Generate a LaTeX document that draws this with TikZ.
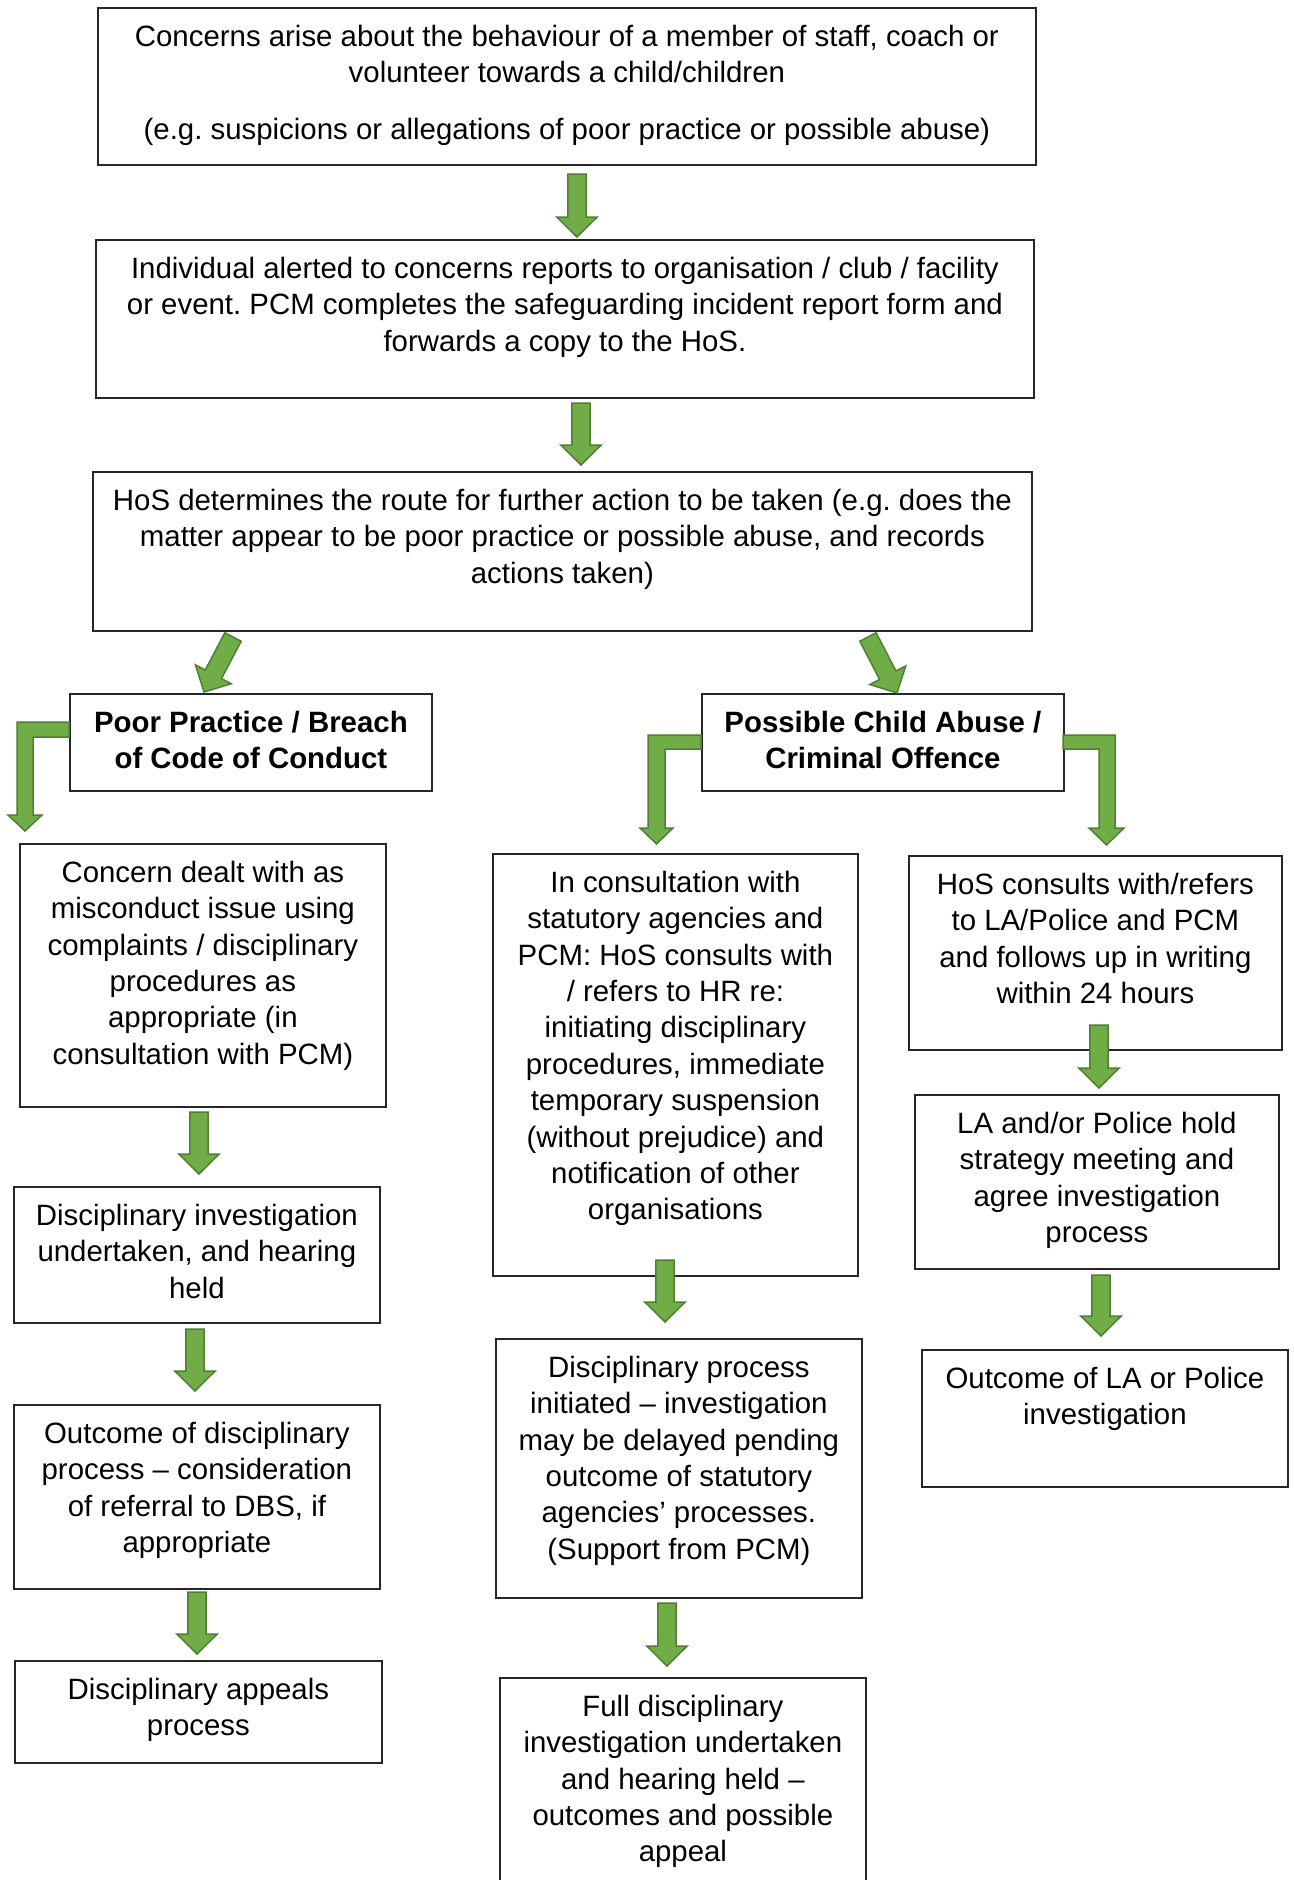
\documentclass[tikz,border=0pt]{standalone}
\usepackage{fontspec}
\setmainfont{Liberation Sans}
\usetikzlibrary{calc}
\frenchspacing
\definecolor{agreen}{HTML}{70AD47}
\definecolor{agreendark}{HTML}{507E32}
\tikzset{
  boxstyle/.style={draw=black!85, line width=0.9pt, fill=white, inner sep=0pt, anchor=north west},
  txt/.style={align=center, inner sep=0pt, anchor=north, font=\fontsize{14.7pt}{18.2pt}\selectfont},
  blk/.style={fill=agreen, draw=agreendark, line width=0.75pt, line join=miter},
}
% name, x1, y1, x2, y2, text
\newcommand\flowbox[6]{%
  \node[boxstyle, minimum width={(#4-#2)*0.5pt}, minimum height={(#5-#3)*0.5pt}] (#1) at (#2,#3) {};
  \node[txt] (#1-t) at ($(#1.north)+(0,17.5)$) {#6};
}
% straight block arrow from tail (#1) to tip (#2)
\newcommand\blockarrow[2]{%
  \coordinate (ba-h) at ($(#2)!10pt!(#1)$);
  \draw[blk] ($(#1)!4.6pt!90:(#2)$) -- ($(ba-h)!4.6pt!90:(#2)$) -- ($(ba-h)!10.1pt!90:(#2)$)
    -- (#2) -- ($(ba-h)!10.1pt!-90:(#2)$) -- ($(ba-h)!4.6pt!-90:(#2)$) -- ($(#1)!4.6pt!-90:(#2)$) -- cycle;
}
\begin{document}
\begin{tikzpicture}[x=0.5pt, y=-0.5pt]
\useasboundingbox (0,0) rectangle (1294,1880);

\flowbox{q1}{97}{7}{1035}{164}{Concerns arise about the behaviour of a member of staff, coach or\\volunteer towards a child/children\\[10pt](e.g. suspicions or allegations of poor practice or possible abuse)}
\flowbox{q2}{95}{239}{1033}{397}{Individual alerted to concerns reports to organisation / club / facility\\or event. PCM completes the safeguarding incident report form and\\forwards a copy to the HoS.}
\flowbox{q3}{92}{471}{1031}{630}{HoS determines the route for further action to be taken (e.g. does the\\matter appear to be poor practice or possible abuse, and records\\actions taken)}
\flowbox{poor}{69}{693}{431}{790}{\textbf{Poor Practice / Breach}\\\textbf{of Code of Conduct}}
\flowbox{abuse}{701}{693}{1063}{790}{\textbf{Possible Child Abuse /}\\\textbf{Criminal Offence}}

\flowbox{l1}{19}{843}{385}{1106}{Concern dealt with as\\misconduct issue using\\complaints / disciplinary\\procedures as\\appropriate (in\\consultation with PCM)}
\flowbox{l2}{13}{1186}{379}{1322}{Disciplinary investigation\\undertaken, and hearing\\held}
\flowbox{l3}{13}{1404}{379}{1588}{Outcome of disciplinary\\process – consideration\\of referral to DBS, if\\appropriate}
\flowbox{l4}{14}{1660}{381}{1762}{Disciplinary appeals\\process}

\flowbox{m1}{492}{853}{857}{1275}{In consultation with\\statutory agencies and\\PCM: HoS consults with\\/ refers to HR re:\\initiating disciplinary\\procedures, immediate\\temporary suspension\\(without prejudice) and\\notification of other\\organisations}
\flowbox{m2}{495}{1338}{861}{1597}{Disciplinary process\\initiated – investigation\\may be delayed pending\\outcome of statutory\\agencies’ processes.\\(Support from PCM)}
\flowbox{m3}{499}{1677}{865}{1886}{Full disciplinary\\investigation undertaken\\and hearing held –\\outcomes and possible\\appeal}

\flowbox{r1}{908}{855}{1281}{1049}{HoS consults with/refers\\to LA/Police and PCM\\and follows up in writing\\within 24 hours}
\flowbox{r2}{914}{1094}{1278}{1268}{LA and/or Police hold\\strategy meeting and\\agree investigation\\process}
\flowbox{r3}{921}{1349}{1287}{1486}{Outcome of LA or Police\\investigation}

% arrow end points
\coordinate (a1s) at (577,174); \coordinate (a1t) at (577,237);
\coordinate (a2s) at (581,403); \coordinate (a2t) at (581,465);
\coordinate (d1s) at (233,637); \coordinate (d1t) at (204,692);
\coordinate (d2s) at (868,637); \coordinate (d2t) at (897,693);
\coordinate (la1s) at (199,1112); \coordinate (la1t) at (199,1174);
\coordinate (la2s) at (195,1329); \coordinate (la2t) at (195,1391);
\coordinate (la3s) at (197,1592); \coordinate (la3t) at (197,1654);
\coordinate (ma1s) at (665,1260); \coordinate (ma1t) at (665,1322);
\coordinate (ma2s) at (667,1603); \coordinate (ma2t) at (667,1666);
\coordinate (ra1s) at (1099,1025); \coordinate (ra1t) at (1099,1088);
\coordinate (ra2s) at (1101,1275); \coordinate (ra2t) at (1101,1336);

\blockarrow{a1s}{a1t}
\blockarrow{a2s}{a2t}
\blockarrow{d1s}{d1t}
\blockarrow{d2s}{d2t}
\blockarrow{la1s}{la1t}
\blockarrow{la2s}{la2t}
\blockarrow{la3s}{la3t}
\blockarrow{ma1s}{ma1t}
\blockarrow{ma2s}{ma2t}
\blockarrow{ra1s}{ra1t}
\blockarrow{ra2s}{ra2t}

% bent arrows
\draw[blk] (69,722) -- (17,722) -- (17,815) -- (8,815) -- (25,831) -- (42,815) -- (33,815) -- (33,737) -- (69,737) -- cycle;
\draw[blk] (701,735) -- (648,735) -- (648,828) -- (640,828) -- (656.5,844) -- (673,828) -- (665,828) -- (665,749) -- (701,749) -- cycle;
\draw[blk] (1063,735) -- (1115,735) -- (1115,828) -- (1124,828) -- (1106.5,845) -- (1089,828) -- (1099,828) -- (1099,749) -- (1063,749) -- cycle;
\end{tikzpicture}
\end{document}
